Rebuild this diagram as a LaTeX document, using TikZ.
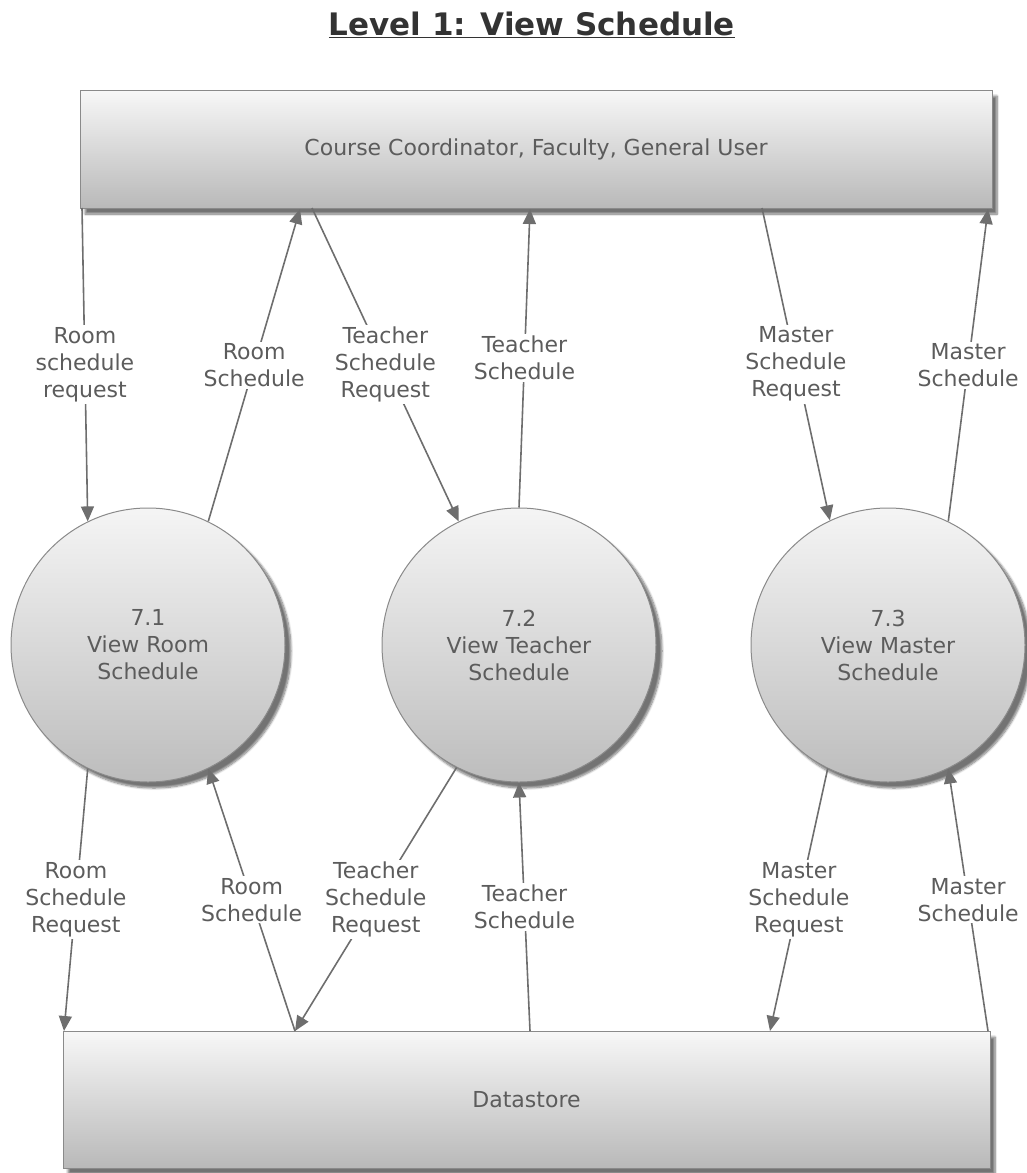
\documentclass[tikz,border=0pt]{standalone}
\usepackage{fontspec}
\setmainfont{DejaVu Sans}
\usepackage{tikz}
\usetikzlibrary{arrows.meta}
\usetikzlibrary{shadows.blur}
\definecolor{linegray}{HTML}{6E6E6E}
\definecolor{textgray}{HTML}{5C5C5C}
\definecolor{edgegray}{HTML}{8A8A8A}
\newcommand{\lblfont}{\fontsize{22}{27}\selectfont}
\tikzset{
  entity/.style={draw=edgegray, line width=1pt, top color=gray!6, bottom color=gray!55,
    blur shadow={shadow xshift=5pt, shadow yshift=-6pt, shadow blur steps=8, shadow opacity=55},
    text=textgray, font=\lblfont, inner sep=0pt},
  proc/.style={circle, draw=edgegray, line width=1pt, minimum size=274pt, inner sep=0pt,
    top color=gray!8, bottom color=gray!52,
    blur shadow={shadow xshift=6pt, shadow yshift=-6pt, shadow blur steps=8, shadow opacity=55},
    text=textgray, font=\lblfont, align=center},
  flowline/.style={draw=linegray, line width=1.6pt, -{Triangle[length=15pt,width=13pt]}},
  flowlabel/.style={fill=white, text=textgray, font=\lblfont, align=center, inner sep=2pt},
}
\newcommand{\process}[4]{\node[proc] (#1) at ( #2 , #3 ) {#4};}
\newcommand{\pin}[3]{\coordinate (#1) at ( #2 , #3 );}
\newcommand{\flow}[4]{\draw[flowline] (#1) -- node[flowlabel] (#2) {#3} (#4);}

\begin{document}
\begin{tikzpicture}[x=1pt,y=-1pt]
    \useasboundingbox (0,0) rectangle (1026,1173);
    % title
    \node[anchor=base, text=black!80, font=\fontsize{31}{36}\selectfont\bfseries] (title) at (532,35) {\underline{Level 1: View Schedule}};
    % external entity and datastore
    \node[entity, minimum width=912pt, minimum height=118pt] (users) at (536,149) {Course Coordinator, Faculty, General User};
    \node[entity, minimum width=927pt, minimum height=137pt] (store) at (526.5,1099.5) {Datastore};
    % processes
    \process{p71}{148}{645}{7.1\\View Room\\Schedule}
    \process{p72}{519}{645}{7.2\\View Teacher\\Schedule}
    \process{p73}{888}{645}{7.3\\View Master\\Schedule}
    % points on users
    \pin{ua}{82}{208}
    \pin{ub}{300}{209}
    \pin{uc}{312}{208}
    \pin{ud}{530}{209}
    \pin{ue}{762}{208}
    \pin{uf}{988}{209}
    % points on store
    \pin{sa}{64}{1031}
    \pin{sb}{295}{1031}
    \pin{sc}{530}{1031}
    \pin{sd}{770}{1031}
    \pin{se}{988}{1031}
    % flows row 1
    \flow{ua}{f1}{Room\\schedule\\request}{p71.116}
    \flow{p71.64}{f2}{Room\\Schedule}{ub}
    \flow{uc}{f3}{Teacher\\Schedule\\Request}{p72.116}
    \flow{p72.90}{f4}{Teacher\\Schedule}{ud}
    \flow{ue}{f5}{Master\\Schedule\\Request}{p73.115}
    \flow{p73.64}{f6}{Master\\Schedule}{uf}
    % flows row 2
    \flow{p71.244}{f7}{Room\\Schedule\\Request}{sa}
    \flow{sb}{f8}{Room\\Schedule}{p71.296}
    \flow{p72.243}{f9}{Teacher\\Schedule\\Request}{sb}
    \flow{sc}{f10}{Teacher\\Schedule}{p72.270}
    \flow{p73.244}{f11}{Master\\Schedule\\Request}{sd}
    \flow{se}{f12}{Master\\Schedule}{p73.296}
\end{tikzpicture}
\end{document}
